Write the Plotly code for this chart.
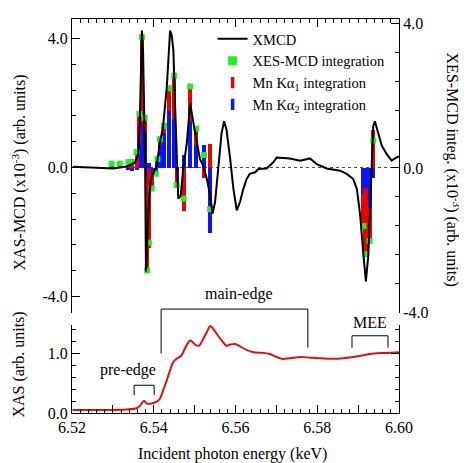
import plotly.graph_objects as go

# ---------------- data ----------------
xmcd_energy = [6.5202, 6.5252, 6.5277, 6.5301, 6.5334, 6.5354, 6.5362, 6.5366, 6.5371, 6.5374,
               6.5379, 6.5381, 6.5384, 6.5388, 6.5393, 6.5399, 6.5407, 6.5415, 6.5423, 6.5432,
               6.5440, 6.5444, 6.5448, 6.5452, 6.5456, 6.5460, 6.5466, 6.5472, 6.5481, 6.5489,
               6.5497, 6.5505, 6.5513, 6.5521, 6.5530, 6.5538, 6.5544, 6.5550, 6.5558, 6.5566,
               6.5572, 6.5578, 6.5587, 6.5595, 6.5603, 6.5611, 6.5619, 6.5627, 6.5635, 6.5648,
               6.5656, 6.5676, 6.5692, 6.5701, 6.5733, 6.5758, 6.5782, 6.5799, 6.5823, 6.5856,
               6.5872, 6.5888, 6.5897, 6.5905, 6.5913, 6.5919, 6.5925, 6.5929, 6.5933, 6.5937,
               6.5941, 6.5949, 6.5958, 6.5970, 6.5982, 6.5994, 6.6000]
xmcd_value = [0.02, 0.00, -0.03, -0.03, 0.03, 0.15, 0.41, 1.48, 4.24, 3.53,
              -0.05, -3.22, -2.30, -1.07, -0.36, -0.20, 0.05, 0.77, 1.28, 2.51,
              4.24, 4.09, 3.63, 1.99, 0.15, -0.97, -0.87, -0.05, 0.77, 1.99,
              1.38, 0.77, 0.26, 0.05, -0.36, -0.87, -1.43, -1.07, 0.05, 1.07,
              1.43, 1.17, 0.26, -0.67, -1.33, -1.07, -0.67, -0.36, -0.20, -0.15,
              -0.05, -0.03, 0.15, 0.31, 0.28, 0.21, 0.28, 0.10, -0.03, -0.10,
              -0.20, -0.36, -0.67, -1.48, -2.71, -3.53, -2.71, -1.28, 0.46, 1.28,
              1.43, 1.07, 0.67, 0.41, 0.21, 0.31, 0.34]

bar_energy = [6.5297, 6.5317, 6.5338, 6.5346, 6.5358,
              6.5365, 6.5371, 6.5378, 6.5384, 6.5388,
              6.5395, 6.5405, 6.5409, 6.5415, 6.5425,
              6.5438, 6.5450, 6.5456, 6.5473, 6.5489,
              6.5504, 6.5523, 6.5538, 6.5913, 6.5918,
              6.5928, 6.5937]
ka1_value = [0.09, 0.09, 0.22, 0.24, 0.50,
             0.80, 2.37, 0.39, -2.59, -2.22,
             -0.32, -0.08, 0.05, 0.20, 0.19,
             0.63, 1.21, -0.42, -1.20, 0.95,
             0.46, -0.28, 0.66, -0.86, -1.84,
             -0.91, 1.05]
ka2_value = [0.03, 0.03, -0.06, -0.08, -0.06,
             0.70, 1.26, 1.00, -0.25, 0.15,
             -0.25, -0.08, 0.20, 0.60, 0.98,
             1.58, 1.35, -0.05, 0.35, 1.31,
             0.63, 0.64, -1.80, -0.75, -0.55,
             -1.11, -0.29]
xes_value = [0.12, 0.12, 0.16, 0.16, 0.44,
             1.50, 3.63, 1.39, -2.84, -2.07,
             -0.57, -0.16, 0.25, 0.80, 1.17,
             2.21, 2.56, -0.47, -0.85, 2.26,
             1.09, 0.36, -1.14, -1.61, -2.39,
             -2.02, 0.76]

xas_energy = [6.5201, 6.5268, 6.5334, 6.5358, 6.5366, 6.5376, 6.5383, 6.5395, 6.5407, 6.5415,
              6.5423, 6.5432, 6.5440, 6.5448, 6.5456, 6.5468, 6.5476, 6.5485, 6.5490, 6.5501,
              6.5511, 6.5519, 6.5530, 6.5538, 6.5546, 6.5554, 6.5566, 6.5578, 6.5587, 6.5599,
              6.5611, 6.5627, 6.5644, 6.5668, 6.5684, 6.5701, 6.5713, 6.5733, 6.5758, 6.5782,
              6.5807, 6.5839, 6.5864, 6.5888, 6.5913, 6.5937, 6.5970, 6.6000]
xas_value = [0.05, 0.05, 0.06, 0.08, 0.12, 0.20, 0.16, 0.16, 0.19, 0.24,
             0.38, 0.55, 0.72, 0.86, 0.91, 0.97, 1.08, 1.19, 1.22, 1.15,
             1.13, 1.22, 1.36, 1.46, 1.41, 1.33, 1.22, 1.13, 1.15, 1.16,
             1.12, 1.06, 1.02, 1.01, 0.99, 0.94, 0.91, 0.92, 0.94, 0.93,
             0.92, 0.91, 0.92, 0.94, 0.97, 1.00, 1.01, 1.02]

x_tickvals = [6.52, 6.53, 6.54, 6.55, 6.56, 6.57, 6.58, 6.59, 6.60]
x_ticktext = ["6.52", "", "6.54", "", "6.56", "", "6.58", "", "6.60"]
mcd_tickvals = [-4.0, 0.0, 4.0]
mcd_ticktext = ["-4.0", "0.0", "4.0"]
xas_tickvals = [0.0, 1.0]
xas_ticktext = ["0.0", "1.0"]

# ---------------- style ----------------
FONT = "Liberation Serif"
FS_TICK = 16
BLACK = "#000000"
GREEN = "#22ee22"
RED = "#ee0000"
BLUE = "#0a14ff"
XASRED = "#e01010"
BAR_W = 0.001

fig = go.Figure()

fig.add_trace(go.Bar(x=bar_energy, y=ka2_value, width=BAR_W, marker_color=BLUE,
                     marker_line_width=0, xaxis="x2", yaxis="y2", showlegend=False))
fig.add_trace(go.Bar(x=bar_energy, y=ka1_value, width=BAR_W, marker_color=RED,
                     marker_line_width=0, xaxis="x2", yaxis="y2", showlegend=False))
fig.add_trace(go.Scatter(x=bar_energy, y=xes_value, mode="markers",
                         marker=dict(symbol="square", size=6, color=GREEN),
                         xaxis="x2", yaxis="y2", showlegend=False))
fig.add_trace(go.Scatter(x=xmcd_energy, y=xmcd_value, mode="lines",
                         line=dict(color=BLACK, width=2), xaxis="x2", yaxis="y3",
                         showlegend=False))
fig.add_trace(go.Scatter(x=xas_energy, y=xas_value, mode="lines",
                         line=dict(color=XASRED, width=2), xaxis="x", yaxis="y",
                         showlegend=False, line_shape="spline"))

fig.add_trace(go.Scatter(x=[None], y=[None], mode="lines", name="XMCD",
                         line=dict(color=BLACK, width=2), xaxis="x2", yaxis="y2", legendrank=1))
fig.add_trace(go.Scatter(x=[None], y=[None], mode="markers", name="XES-MCD integration",
                         marker=dict(symbol="square", size=9, color=GREEN),
                         xaxis="x2", yaxis="y2", legendrank=2))
fig.add_trace(go.Scatter(x=[None], y=[None], mode="markers", name="Mn Kα<sub>1</sub> integration",
                         marker=dict(symbol="line-ns", size=8, line=dict(color=RED, width=3.5)),
                         xaxis="x2", yaxis="y2", legendrank=3))
fig.add_trace(go.Scatter(x=[None], y=[None], mode="markers", name="Mn Kα<sub>2</sub> integration",
                         marker=dict(symbol="line-ns", size=8, line=dict(color=BLUE, width=3.5)),
                         xaxis="x2", yaxis="y2", legendrank=4))

axis_common = dict(showline=True, linecolor=BLACK, linewidth=1, ticks="inside",
                   tickcolor=BLACK, showgrid=False, zeroline=False,
                   tickfont=dict(family=FONT, size=FS_TICK, color=BLACK))

TOP_DOM = [0.2538, 1.0]
BOT_DOM = [0.0, 0.2236]

fig.update_layout(
    width=467, height=463,
    margin=dict(l=64, r=76, t=7, b=58),
    paper_bgcolor="white", plot_bgcolor="white",
    barmode="relative", bargap=0,
    font=dict(family=FONT, size=15, color=BLACK),
    xaxis=dict(**axis_common, domain=[0, 1], anchor="y", range=[6.52, 6.60],
               tickvals=x_tickvals, ticktext=x_ticktext, ticklen=8,
               minor=dict(tick0=6.52, dtick=0.002, ticklen=4, ticks="inside", tickcolor=BLACK)),
    yaxis=dict(**axis_common, domain=BOT_DOM, anchor="x", range=[0, 1.48],
               tickvals=xas_tickvals, ticktext=xas_ticktext, ticklen=8, mirror="ticks",
               minor=dict(tick0=0, dtick=0.2, ticklen=4, ticks="inside", tickcolor=BLACK)),
    xaxis2=dict(**axis_common, domain=[0, 1], anchor="y2", side="top", matches="x",
                range=[6.52, 6.60], tickvals=x_tickvals, ticktext=x_ticktext, ticklen=8,
                showticklabels=False,
                minor=dict(tick0=6.52, dtick=0.002, ticklen=4, ticks="inside", tickcolor=BLACK)),
    yaxis2=dict(**axis_common, domain=TOP_DOM, anchor="x2", side="right", range=[-4.02, 4.13],
                tickvals=mcd_tickvals, ticktext=mcd_ticktext, ticklen=8,
                minor=dict(tick0=0, dtick=0.8, ticklen=4, ticks="inside", tickcolor=BLACK)),
    yaxis3=dict(**axis_common, domain=TOP_DOM, anchor="x2", side="left", overlaying="y2",
                range=[-4.51, 4.60], tickvals=mcd_tickvals, ticktext=mcd_ticktext, ticklen=8,
                minor=dict(tick0=0, dtick=0.8, ticklen=4, ticks="inside", tickcolor=BLACK)),
    legend=dict(x=0.43, y=0.99, xanchor="left", yanchor="top", bgcolor="rgba(0,0,0,0)",
                font=dict(family=FONT, size=14.5, color=BLACK), tracegroupgap=0,
                itemwidth=30),
)

fig.add_shape(type="line", xref="x2", yref="y3", x0=6.52, x1=6.60, y0=0, y1=0,
              line=dict(color="#444444", width=1, dash="dot"), layer="below")

def bracket(x0, x1, ytop, yl, yr):
    fig.add_shape(type="path", xref="x", yref="paper",
                  path=f"M {x0} {yl} L {x0} {ytop} L {x1} {ytop} L {x1} {yr}",
                  line=dict(color=BLACK, width=1))

bracket(6.5418, 6.5777, 0.2638, 0.1508, 0.1658)
bracket(6.5352, 6.5401, 0.0704, 0.0452, 0.0452)
bracket(6.5885, 6.5973, 0.1960, 0.1658, 0.1658)

ann_font = dict(family=FONT, size=16, color=BLACK)
fig.add_annotation(x=6.5609, y=0.3015, xref="x", yref="paper", text="main-edge",
                   showarrow=False, font=ann_font, xanchor="center", yanchor="middle")
fig.add_annotation(x=6.5337, y=0.108, xref="x", yref="paper", text="pre-edge",
                   showarrow=False, font=ann_font, xanchor="center", yanchor="middle")
fig.add_annotation(x=6.5929, y=0.2294, xref="x", yref="paper", text="MEE",
                   showarrow=False, font=ann_font, xanchor="center", yanchor="middle")

title_font = dict(family=FONT, size=16, color=BLACK)
fig.add_annotation(x=-0.162, y=0.6106, xref="paper", yref="paper",
                   text="XAS-MCD (x10<sup>-3</sup>) (arb. units)", textangle=-90,
                   showarrow=False, font=title_font, xanchor="center", yanchor="middle")
fig.add_annotation(x=-0.162, y=0.123, xref="paper", yref="paper",
                   text="XAS (arb. units)", textangle=-90,
                   showarrow=False, font=title_font, xanchor="center", yanchor="middle")
fig.add_annotation(x=1.165, y=0.618, xref="paper", yref="paper",
                   text="XES-MCD integ. (x10<sup>-3</sup>) (arb. units)", textangle=90,
                   showarrow=False, font=title_font, xanchor="center", yanchor="middle")
fig.add_annotation(x=0.492, y=-0.103, xref="paper", yref="paper",
                   text="Incident photon energy (keV)",
                   showarrow=False, font=title_font, xanchor="center", yanchor="middle")

fig.write_html("out.html")
